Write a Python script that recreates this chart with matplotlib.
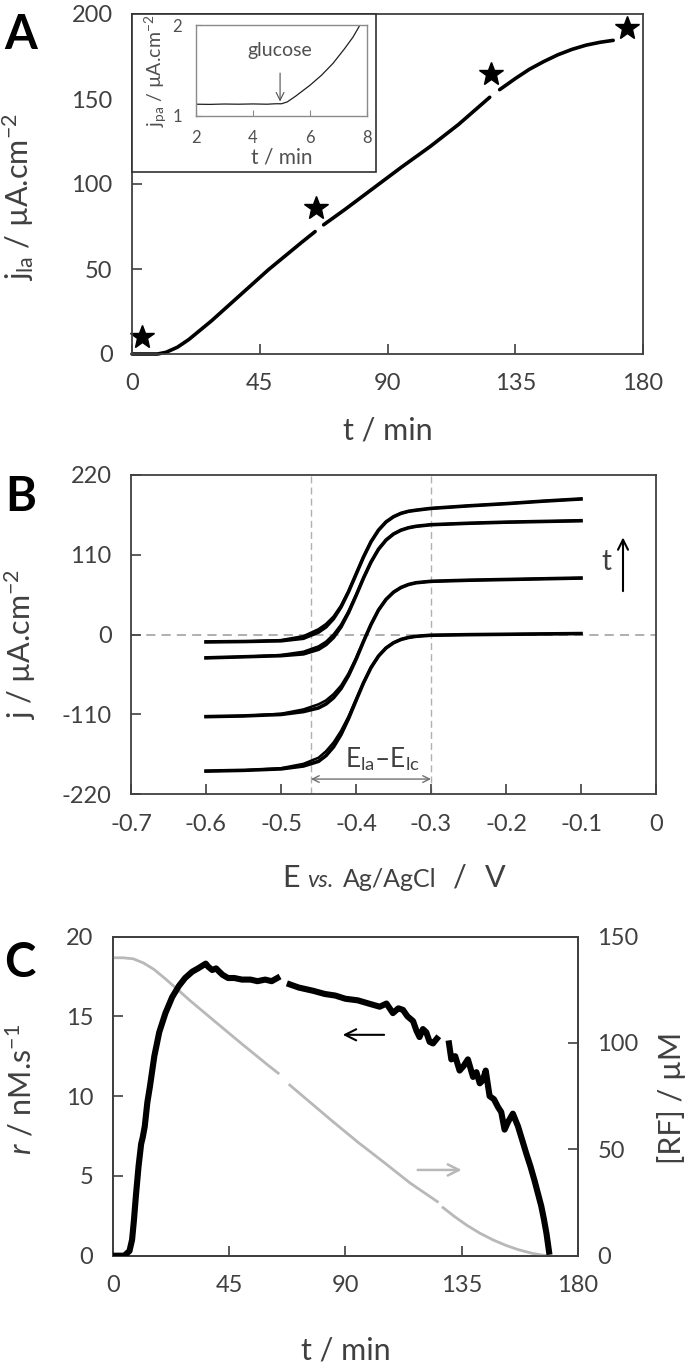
import matplotlib
matplotlib.use("Agg")
import matplotlib.pyplot as plt
from matplotlib.patches import Rectangle

plt.rcParams['font.family'] = ['Lato', 'DejaVu Sans']
plt.rcParams['mathtext.fontset'] = 'custom'
plt.rcParams['mathtext.rm'] = 'Lato'
plt.rcParams['mathtext.it'] = 'Lato:italic'

# ---------------- Panel A data ----------------
a_t1 = [0, 9, 12, 16, 20, 24, 28, 32, 36, 40, 44, 48, 52, 56, 60, 64.5]
a_j1 = [0, 0, 1, 4, 8.5, 14, 19.5, 25.5, 31.5, 37.5, 43.5, 49.5, 55, 60.5, 66, 72]
a_t2 = [67.5, 75, 85, 95, 105, 115, 126]
a_j2 = [76, 85, 97.5, 110, 122, 135, 151]
a_t3 = [129.5, 135, 140, 145, 150, 155, 160, 165, 169.5]
a_j3 = [155.5, 162, 167.5, 172, 176, 179.2, 181.7, 183.4, 184.5]
star_t = [3.5, 64.8, 126.5, 174.3]
star_j = [10, 86, 165, 192]
a_xticks = [0, 45, 90, 135, 180]
a_yticks = [0, 50, 100, 150, 200]

# inset
in_t = [2, 2.5, 3, 3.5, 4, 4.5, 4.8, 5.0, 5.2, 5.5, 6.0, 6.4, 6.8, 7.2, 7.5, 7.72]
in_j = [1.13, 1.128, 1.132, 1.13, 1.133, 1.13, 1.135, 1.135, 1.155, 1.22, 1.34, 1.45,
        1.58, 1.74, 1.87, 1.99]
in_xticks = [2, 4, 6, 8]
in_yticks = [1, 2]

# ---------------- Panel B data ----------------
b_E = [-0.60, -0.55, -0.50, -0.47, -0.45, -0.44, -0.43, -0.42, -0.41, -0.40, -0.39,
       -0.38, -0.37, -0.36, -0.35, -0.34, -0.33, -0.32, -0.30, -0.25, -0.20, -0.15, -0.10]
b_j1_fwd = [-188, -187, -185, -181, -174.6, -166.7, -154.7, -137.7, -115.8, -91, -66.5,
            -45.4, -29.5, -18.4, -11.2, -6.6, -3.9, -2.3, -0.8, 0, 0.5, 1.0, 1.5]
b_j1_rev = [-188, -187, -184, -178, -169.6, -160.7, -148.7, -132.7, -112.8, -89, -66,
            -45.4, -29.5, -18.4, -11.2, -6.6, -3.9, -2.3, -0.8, 0, 0.5, 1.0, 1.5]
b_j2_fwd = [-113, -112, -110, -106, -101, -95.6, -87, -74.3, -56.5, -34.2, -9.5,
            14, 33.9, 48.5, 58.5, 65, 69.1, 71.5, 73.5, 75, 76, 77, 78]
b_j2_rev = [-113, -112, -109, -103, -96, -90.6, -82, -70.3, -53.5, -32.2, -8.5,
            14, 33.9, 48.5, 58.5, 65, 69.1, 71.5, 73.5, 75, 76, 77, 78]
b_j3_fwd = [-32, -30.5, -29, -26.5, -20.2, -13.7, -3.8, 10.7, 30.3, 53.6, 78,
            100, 117.7, 130.3, 138.7, 144, 147.3, 149.3, 151.5, 153.5, 155, 156, 157]
b_j3_rev = [-32, -30.5, -28, -23.5, -16.2, -9.7, 0.2, 13.7, 32.3, 54.6, 78,
            100, 117.7, 130.3, 138.7, 144, 147.3, 149.3, 151.5, 153.5, 155, 156, 157]
b_j4_fwd = [-10, -9.5, -8.5, -5, 3.5, 10.7, 22, 38, 59, 83, 107,
            128, 144, 155.3, 162.5, 167.2, 170, 171.5, 174, 177.5, 180.5, 184, 187]
b_j4_rev = [-10, -9.5, -7.5, -2, 7.5, 14.7, 25, 40, 60, 83.5, 107,
            128, 144, 155.3, 162.5, 167.2, 170, 171.5, 174, 177.5, 180.5, 184, 187]
b_xticks = [-0.7, -0.6, -0.5, -0.4, -0.3, -0.2, -0.1, 0]
b_xlabels = ['-0.7', '-0.6', '-0.5', '-0.4', '-0.3', '-0.2', '-0.1', '0']
b_yticks = [-220, -110, 0, 110, 220]
b_ylabels = ['-220', '-110', '0', '110', '220']
b_Ela, b_Elc = -0.46, -0.30

# ---------------- Panel C data ----------------
c_t1 = [0, 4.5, 6.5, 7.5, 8.2, 9, 10, 11, 11.6, 12.4, 13.4, 14.4, 16.1, 18, 20.4, 23,
        25.6, 28, 30.8, 33, 35, 36, 37, 38.5, 40, 41.2, 42.5, 44.6, 47, 50, 53.3, 56,
        59, 61.5, 63.7]
c_r1 = [0, 0, 0.3, 1.0, 2.2, 3.8, 5.6, 7.0, 7.4, 8.1, 9.6, 10.6, 12.5, 14.0, 15.2, 16.2,
        16.9, 17.4, 17.8, 18.0, 18.2, 18.3, 18.1, 17.9, 18.0, 17.8, 17.6, 17.4, 17.4,
        17.3, 17.3, 17.2, 17.3, 17.2, 17.4]
c_t2 = [68.5, 72, 77.5, 82, 86.1, 90, 94.8, 99, 103.3, 105.9, 108.4, 110.5, 112.3, 114,
        116.2, 117.5, 118.7, 120, 121.3, 122.6, 123.9, 125.4]
c_r2 = [17.0, 16.8, 16.6, 16.4, 16.3, 16.1, 16.0, 15.8, 15.6, 15.8, 15.2, 15.5, 15.4,
        15.0, 14.7, 14.1, 13.7, 14.2, 14.0, 13.4, 13.3, 13.6]
c_t3 = [130.1, 131, 132.5, 134.2, 135.8, 137.4, 139.4, 140.7, 142, 143.2, 144.3, 145.8,
        147.5, 149.1, 150.3, 151.6, 153, 154.8, 156.8, 158.5, 160, 161.6, 163.2, 164.5,
        165.8, 166.8, 167.8, 168.8]
c_r3 = [13.3, 12.3, 12.5, 11.6, 11.9, 12.3, 11.2, 11.5, 10.8, 11.0, 11.6, 10.0, 9.8,
        9.3, 9.0, 7.9, 8.4, 8.9, 8.1, 7.2, 6.4, 5.6, 4.7, 3.9, 3.1, 2.3, 1.4, 0.25]
rf_t1 = [0, 4, 8, 12, 16, 20, 25, 30, 40, 50, 60, 64]
rf_1 = [140, 140, 139.5, 137.5, 134.5, 130.5, 125.2, 119.8, 109.6, 99.5, 89.6, 85.8]
rf_t2 = [68.5, 75, 85, 95, 105, 115, 125.6]
rf_2 = [80.2, 73.5, 63.2, 53.2, 43.8, 34.2, 25.4]
rf_t3 = [127.8, 132, 137, 142, 147, 152, 157, 162, 166, 168]
rf_3 = [22.6, 18.6, 14.3, 10.6, 7.5, 4.9, 2.8, 1.2, 0.3, 0]
c_xticks = [0, 45, 90, 135, 180]
c_yticks = [0, 5, 10, 15, 20]
c_y2ticks = [0, 50, 100, 150]

# ---------------- styling ----------------
W, H = 700, 1371
fig = plt.figure(figsize=(W / 100, H / 100), dpi=100)
TXT = '#404040'
SP = '#404040'
TICKFS = 17
LABFS = 22


def px_axes(left, top, right, bottom):
    return fig.add_axes([left / W, (H - bottom) / H, (right - left) / W, (bottom - top) / H])


def style(ax, pad=14):
    for s in ax.spines.values():
        s.set_color(SP)
        s.set_linewidth(1.3)
    ax.tick_params(direction='in', length=7, width=1.2, color=SP, labelcolor=TXT,
                   labelsize=TICKFS, pad=pad)


# ================= Panel A =================
axA = px_axes(132, 14, 643, 354)
style(axA)
axA.set_xlim(0, 180)
axA.set_ylim(0, 200)
axA.set_xticks(a_xticks)
axA.set_yticks(a_yticks)
for tt, jj in [(a_t1, a_j1), (a_t2, a_j2), (a_t3, a_j3)]:
    axA.plot(tt, jj, color='black', lw=2.6, solid_capstyle='round', clip_on=False)
axA.plot(star_t, star_j, linestyle='none', marker='*', ms=18, color='black', clip_on=False)
axA.text(0.5, -0.225, 't / min', transform=axA.transAxes, ha='center', va='center',
         fontsize=LABFS, color=TXT)
axA.text(-0.223, 0.46, r'j$_{\mathregular{la}}$ / µA.cm$^{\mathregular{-2}}$',
         transform=axA.transAxes, rotation=90, ha='center', va='center',
         fontsize=LABFS, color=TXT)
axA.add_patch(Rectangle((0, 0.535), 0.4775, 0.465, transform=axA.transAxes,
                        facecolor='white', edgecolor='#303030', lw=1.2, zorder=5,
                        clip_on=False))
fig.text(21 / W, 1 - 35 / H, 'A', fontsize=34, fontweight='bold', ha='center',
         va='center', color='black')

# inset
axI = px_axes(195.7, 25.3, 367.3, 116)
for s in axI.spines.values():
    s.set_color('#8a8a8a')
    s.set_linewidth(1.0)
axI.tick_params(direction='in', length=4, width=0.8, color='#8a8a8a', labelcolor='#505050',
                labelsize=12, pad=10)
axI.set_xlim(2, 8)
axI.set_ylim(1, 2)
axI.set_xticks(in_xticks)
axI.set_yticks(in_yticks)
axI.plot(in_t, in_j, color='#202020', lw=0.9)
axI.set_xlabel('t / min', fontsize=15, color='#505050', labelpad=1)
axI.set_ylabel(r'j$_{\mathregular{pa}}$ / µA.cm$^{\mathregular{-2}}$', fontsize=14,
               color='#505050', labelpad=2)
axI.annotate('glucose', xy=(4.95, 1.16), xytext=(4.95, 1.72), ha='center', va='center',
             fontsize=14, color='#505050',
             arrowprops=dict(arrowstyle='->', color='#505050', lw=0.8,
                             shrinkA=8, shrinkB=0))

# ================= Panel B =================
axB = px_axes(131, 475, 656, 794.3)
style(axB)
axB.set_xlim(-0.7, 0)
axB.set_ylim(-220, 220)
axB.set_xticks(b_xticks)
axB.set_xticklabels(b_xlabels)
axB.set_yticks(b_yticks)
axB.set_yticklabels(b_ylabels)
axB.axhline(0, color='#9a9a9a', lw=1.1, dashes=(6, 4), zorder=1)
axB.axvline(b_Ela, color='#b0b0b0', lw=1.0, dashes=(5, 3), zorder=1)
axB.axvline(b_Elc, color='#b0b0b0', lw=1.0, dashes=(5, 3), zorder=1)
for jf, jr in [(b_j1_fwd, b_j1_rev), (b_j2_fwd, b_j2_rev),
               (b_j3_fwd, b_j3_rev), (b_j4_fwd, b_j4_rev)]:
    axB.plot(b_E, jf, color='black', lw=2.6, zorder=3)
    axB.plot(b_E, jr, color='black', lw=1.8, zorder=3)
axB.annotate('', xy=(b_Ela, -199), xytext=(b_Elc, -199),
             arrowprops=dict(arrowstyle='<->', color='#707070', lw=1.0,
                             shrinkA=0, shrinkB=0, mutation_scale=12))
axB.text(-0.365, -172, r'E$_{\mathregular{la}}$–E$_{\mathregular{lc}}$', ha='center',
         va='center', fontsize=19, color=TXT)
axB.annotate('', xy=(-0.044, 134), xytext=(-0.044, 60),
             arrowprops=dict(arrowstyle='->', color='black', lw=1.5, mutation_scale=18,
                             shrinkA=0, shrinkB=0))
axB.text(-0.066, 100, 't', ha='center', va='center', fontsize=20, color=TXT)
axB.text(-0.211, 0.47, r'j / µA.cm$^{\mathregular{-2}}$', transform=axB.transAxes,
         rotation=90, ha='center', va='center', fontsize=LABFS, color=TXT)
# x label of B in pieces with mixed sizes
yb = 1 - 887 / H
fig.text(282 / W, yb, 'E', fontsize=LABFS, color=TXT, va='baseline', ha='left')
fig.text(307 / W, yb, 'vs.', fontsize=17, style='italic', color=TXT, va='baseline', ha='left')
fig.text(343 / W, yb, 'Ag/AgCl', fontsize=18, color=TXT, va='baseline', ha='left')
fig.text(453 / W, yb, '/', fontsize=LABFS, color=TXT, va='baseline', ha='left')
fig.text(485 / W, yb, 'V', fontsize=LABFS, color=TXT, va='baseline', ha='left')
fig.text(21 / W, 1 - 497 / H, 'B', fontsize=34, fontweight='bold', ha='center',
         va='center', color='black')

# ================= Panel C =================
axC = px_axes(112.7, 936.5, 578, 1255.7)
style(axC)
axC.set_xlim(0, 180)
axC.set_ylim(0, 20)
axC.set_xticks(c_xticks)
axC.set_yticks(c_yticks)
axC2 = axC.twinx()
style(axC2)
axC2.set_ylim(0, 150)
axC2.set_yticks(c_y2ticks)
for tt, rr in [(rf_t1, rf_1), (rf_t2, rf_2), (rf_t3, rf_3)]:
    axC2.plot(tt, rr, color='#b8b8b8', lw=2.0, zorder=2)
axC2.patch.set_visible(False)
for tt, rr in [(c_t1, c_r1), (c_t2, c_r2), (c_t3, c_r3)]:
    axC2.plot(tt, [v * 7.5 for v in rr], color='black', lw=4.4, zorder=3,
              solid_joinstyle='round')
axC.annotate('', xy=(89, 13.84), xytext=(105, 13.84),
             arrowprops=dict(arrowstyle='->', color='black', lw=1.5, mutation_scale=20,
                             shrinkA=0, shrinkB=0))
axC2.annotate('', xy=(135, 40.3), xytext=(118, 40.3),
              arrowprops=dict(arrowstyle='->', color='#b8b8b8', lw=1.8, mutation_scale=20,
                              shrinkA=0, shrinkB=0))
axC.text(0.5, -0.298, 't / min', transform=axC.transAxes, ha='center', va='center',
         fontsize=LABFS, color=TXT)
axC.text(-0.198, 0.52, r'$\it{r}$ / nM.s$^{\mathregular{-1}}$', transform=axC.transAxes,
         rotation=90, ha='center', va='center', fontsize=LABFS, color=TXT)
axC2.text(1.2, 0.495, '[RF] / µM', transform=axC2.transAxes, rotation=90,
          ha='center', va='center', fontsize=LABFS, color=TXT)
fig.text(20 / W, 1 - 963 / H, 'C', fontsize=34, fontweight='bold', ha='center',
         va='center', color='black')

fig.savefig('out.png', dpi=100, facecolor='white')
